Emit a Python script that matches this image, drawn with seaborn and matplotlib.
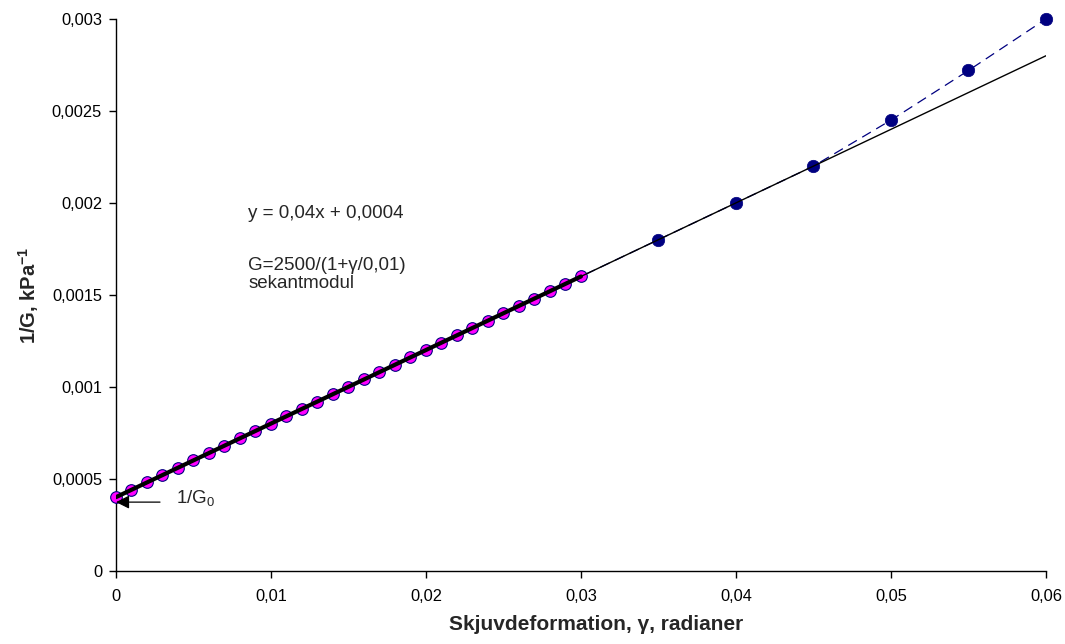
import matplotlib
matplotlib.use("Agg")
import matplotlib.pyplot as plt
import matplotlib.ticker as mticker
import numpy as np
import pandas as pd
import seaborn as sns

# Secant-modulus data: 1/G versus shear strain
gamma_fit = [0.000, 0.001, 0.002, 0.003, 0.004, 0.005, 0.006, 0.007, 0.008, 0.009,
             0.010, 0.011, 0.012, 0.013, 0.014, 0.015, 0.016, 0.017, 0.018, 0.019,
             0.020, 0.021, 0.022, 0.023, 0.024, 0.025, 0.026, 0.027, 0.028, 0.029,
             0.030]
inv_g_fit = [0.00040, 0.00044, 0.00048, 0.00052, 0.00056, 0.00060, 0.00064, 0.00068,
             0.00072, 0.00076, 0.00080, 0.00084, 0.00088, 0.00092, 0.00096, 0.00100,
             0.00104, 0.00108, 0.00112, 0.00116, 0.00120, 0.00124, 0.00128, 0.00132,
             0.00136, 0.00140, 0.00144, 0.00148, 0.00152, 0.00156, 0.00160]
gamma_ext = [0.035, 0.040, 0.045, 0.050, 0.055, 0.060]
inv_g_ext = [0.00180, 0.00200, 0.00220, 0.00245, 0.00272, 0.00300]

x_ticks = [0.0, 0.01, 0.02, 0.03, 0.04, 0.05, 0.06]
y_ticks = [0.0, 0.0005, 0.001, 0.0015, 0.002, 0.0025, 0.003]

inv_g0 = 0.000373

sns.set_theme(style="white")
plt.rcParams["font.family"] = ["Liberation Sans", "DejaVu Sans"]
plt.rcParams["mathtext.fontset"] = "custom"
plt.rcParams["mathtext.rm"] = "Liberation Sans"
plt.rcParams["mathtext.default"] = "regular"

fig = plt.figure(figsize=(10.65, 6.44), dpi=100)
ax = fig.add_axes([0.1089, 0.1138, 0.8732, 0.8567])

navy = "#000080"
all_df = pd.DataFrame({"gamma": gamma_fit + gamma_ext,
                       "inv_g": inv_g_fit + inv_g_ext})
fit_df = pd.DataFrame({"gamma": gamma_fit, "inv_g": inv_g_fit})
ext_df = pd.DataFrame({"gamma": gamma_ext, "inv_g": inv_g_ext})

# Full series as a dashed line
sns.lineplot(data=all_df, x="gamma", y="inv_g", ax=ax, color=navy,
             linewidth=0.9, linestyle=(0, (8, 5)), sort=True, zorder=2)
sns.scatterplot(data=ext_df, x="gamma", y="inv_g", ax=ax, color=navy,
                s=80, edgecolor=navy, linewidth=0.5, zorder=3, clip_on=False)
sns.scatterplot(data=fit_df, x="gamma", y="inv_g", ax=ax, color="#FF00FF",
                s=70, edgecolor=navy, linewidth=0.8, zorder=3, clip_on=False)
sns.lineplot(data=fit_df, x="gamma", y="inv_g", ax=ax, color="black",
             linewidth=3.0, zorder=4)

# Linear trend line from the small-strain data
slope, intercept = np.polyfit(gamma_fit, inv_g_fit, 1)
trend_x = np.array([0.0, max(gamma_ext)])
sns.lineplot(x=trend_x, y=slope * trend_x + intercept, ax=ax, color="black",
             linewidth=1.0, zorder=4)

ax.annotate("", xy=(0.0, inv_g0), xytext=(0.00284, inv_g0),
            arrowprops=dict(arrowstyle="-|>", color="black", lw=0.9,
                            mutation_scale=20, shrinkA=0, shrinkB=0),
            zorder=5, annotation_clip=False)
ax.text(0.00387, 0.000395, "1/G$_0$", fontsize=13.5, va="center", ha="left")

ax.text(0.00852, 0.001945, "y = 0,04x + 0,0004", fontsize=13.5, va="center")
ax.text(0.00852, 0.00166, "G=2500/(1+γ/0,01)", fontsize=13.5, va="center")
ax.text(0.00852, 0.00156, "sekantmodul", fontsize=13.5, va="center")

ax.set_xlim(0, 0.06)
ax.set_ylim(0, 0.003)
ax.set_xticks(x_ticks)
ax.set_yticks(y_ticks)
fmt = mticker.FuncFormatter(lambda v, p: ("%g" % round(v, 6)).replace(".", ","))
ax.xaxis.set_major_formatter(fmt)
ax.yaxis.set_major_formatter(fmt)

for side in ("top", "right"):
    ax.spines[side].set_visible(False)
for side in ("left", "bottom"):
    ax.spines[side].set_color("black")
    ax.spines[side].set_linewidth(1.0)
ax.tick_params(axis="both", direction="out", length=5, width=1.0,
               color="black", labelsize=11.8, labelcolor="black",
               bottom=True, left=True, pad=5)
ax.tick_params(axis="x", pad=8)

ax.set_xlabel("Skjuvdeformation, γ, radianer", fontsize=15, fontweight="bold")
ax.set_ylabel("1/G, kPa$^{-1}$", fontsize=14.5, fontweight="bold")
ax.xaxis.set_label_coords(0.516, -0.080)
ax.yaxis.set_label_coords(-0.081, 0.5)
ax.grid(False)

fig.savefig("out.png", dpi=100)
